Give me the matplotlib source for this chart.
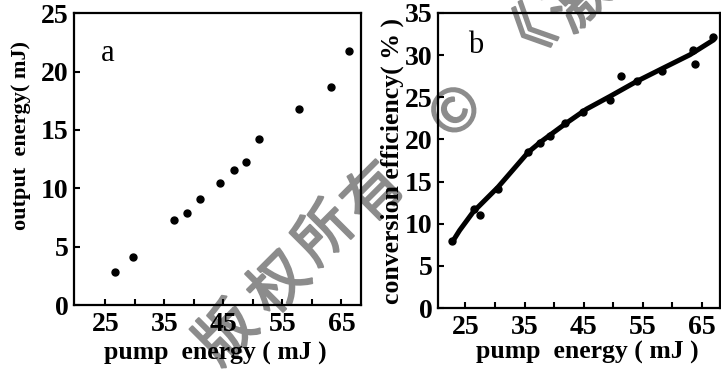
import matplotlib
matplotlib.use('Agg')
import matplotlib.pyplot as plt
import matplotlib.ticker as ticker
import matplotlib.patheffects as pe

# (a) output energy vs pump energy
pump_a = [26.6, 29.7, 36.7, 38.9, 41.1, 44.4, 46.8, 48.8, 51.1, 57.8, 63.2, 66.3]
out_a = [2.85, 4.08, 7.28, 7.85, 9.05, 10.47, 11.58, 12.22, 14.19, 16.76, 18.64, 21.77]

# (b) conversion efficiency: measured points and fitted curve
pump_b = [22.8, 26.4, 27.4, 30.5, 35.6, 37.6, 39.3, 41.8, 44.9, 49.5, 51.4, 54.0, 58.2, 63.6, 63.8, 67.0]
eff_b = [7.9, 11.8, 11.0, 14.1, 18.5, 19.6, 20.4, 21.9, 23.2, 24.7, 27.5, 26.9, 28.1, 30.6, 28.9, 32.1]
fit_x = [22.8, 24.0, 26.3, 30.5, 35.6, 37.6, 41.8, 45.5, 49.5, 54.0, 58.5, 63.0, 67.0]
fit_y = [7.86, 9.2, 11.39, 14.33, 18.46, 19.63, 21.8, 23.6, 25.12, 26.89, 28.47, 30.04, 31.80]

xticks_major = [25, 35, 45, 55, 65]
xticks_minor = [30, 40, 50, 60]

watermark = ['版', '权', '所', '有', '©', '《', '激']
wm_pos = [(228, 335), (280, 285), (325, 235), (375, 195), (457, 113), (525, 42), (580, 2)]

serif = 'Liberation Serif'
fig = plt.figure(figsize=(7.21, 3.69), dpi=100)

# watermark behind everything
for ch, (px, py) in zip(watermark, wm_pos):
    fig.text(px / 721, 1 - py / 369, ch, fontsize=42, color='#8c8c8c', rotation=45,
             ha='center', va='center', family=['Noto Sans CJK SC', 'DejaVu Sans'], zorder=-1,
             path_effects=[pe.withStroke(linewidth=1.5, foreground='#8c8c8c')])


def style(ax, xlim, ylim, ystep):
    ax.set_facecolor('none')
    ax.set_xlim(*xlim)
    ax.set_ylim(*ylim)
    ax.xaxis.set_major_locator(ticker.FixedLocator(xticks_major))
    ax.xaxis.set_minor_locator(ticker.FixedLocator(xticks_minor))
    ax.yaxis.set_major_locator(ticker.MultipleLocator(ystep))
    ax.tick_params(which='both', direction='in', length=4, width=1.5)
    ax.tick_params(axis='x', which='major', pad=5)
    ax.tick_params(axis='y', which='major', pad=4)
    for lab in ax.get_xticklabels() + ax.get_yticklabels():
        lab.set_fontfamily(serif)
        lab.set_fontweight('bold')
        lab.set_fontsize(20)
    for s in ax.spines.values():
        s.set_linewidth(1.6)


# panel a
ax1 = fig.add_axes([0.1026, 0.1734, 0.398, 0.791])
ax1.plot(pump_a, out_a, 'o', color='black', markersize=5)
style(ax1, (19.7, 68.3), (0, 25), 5)
ax1.set_xlabel('pump  energy ( mJ )', family=serif, fontweight='bold', fontsize=18.5, va='center')
ax1.xaxis.set_label_coords(0.491, -0.165)
ax1.set_ylabel('output  energy( mJ)', family=serif, fontweight='bold', fontsize=16, va='center')
ax1.yaxis.set_label_coords(-0.185, 0.58)
ax1.text(0.118, 0.86, 'a', transform=ax1.transAxes, family=serif, fontsize=22, ha='center', va='center')

# panel b
ax2 = fig.add_axes([0.6079, 0.1653, 0.3907, 0.7995])
ax2.plot(fit_x, fit_y, '-', color='black', linewidth=3.6, solid_capstyle='round')
ax2.plot(pump_b, eff_b, 'o', color='black', markersize=5)
style(ax2, (20.4, 68.1), (0, 35), 5)
ax2.set_xlabel('pump  energy ( mJ )', family=serif, fontweight='bold', fontsize=18.5, va='center')
ax2.xaxis.set_label_coords(0.528, -0.152)
ax2.set_ylabel('conversion efficiency( % )', family=serif, fontweight='bold', fontsize=18.5, va='center')
ax2.yaxis.set_label_coords(-0.165, 0.498)
ax2.text(0.133, 0.89, 'b', transform=ax2.transAxes, family=serif, fontsize=22, ha='center', va='center')

fig.savefig('out.png', dpi=100)
